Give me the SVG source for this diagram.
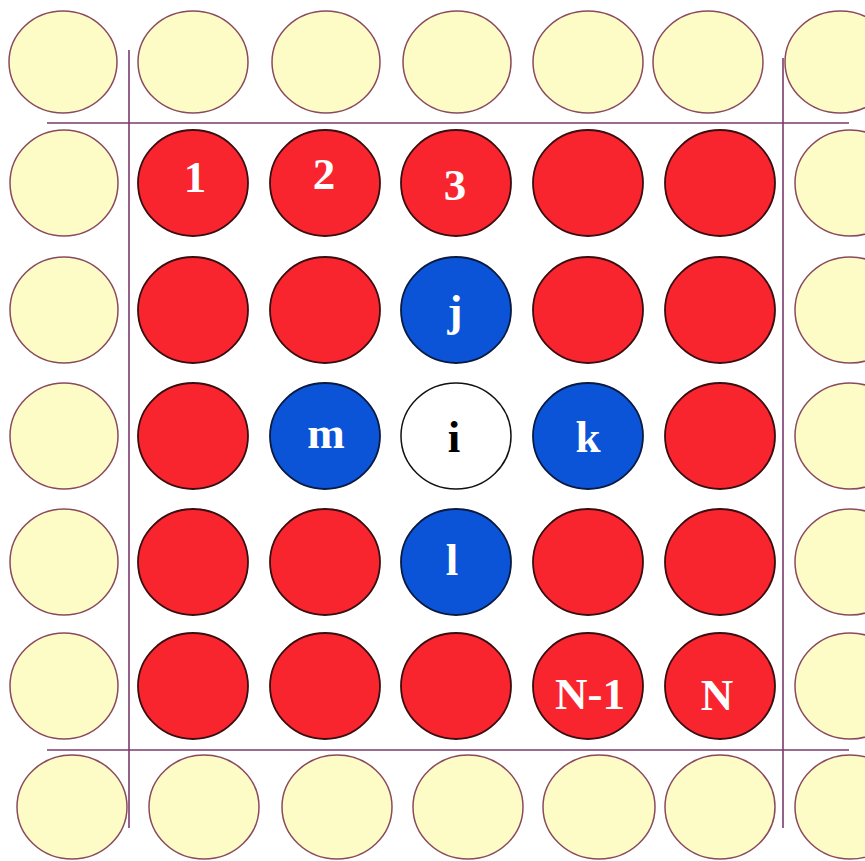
<svg xmlns="http://www.w3.org/2000/svg" width="865" height="861" viewBox="0 0 865 861">
<style>
.y{fill:#fdfbc6;stroke:#8a4a5e;stroke-width:1.5}
.r{fill:#f8252f;stroke:#3a0d10;stroke-width:1.8}
.b{fill:#0b54d8;stroke:#0a1a40;stroke-width:1.8}
.w{fill:#ffffff;stroke:#111111;stroke-width:1.5}
.t{font-family:"Liberation Serif","Times New Roman",serif;font-weight:bold;font-size:45px;fill:#ffffff;text-anchor:middle}
.k{fill:#000000}
.ln{stroke:#7a3a6e;stroke-width:1.6;fill:none}
</style>
<rect width="865" height="861" fill="#ffffff"/>
<g id="lines">
<line class="ln" x1="129" y1="50" x2="129" y2="828"/>
<line class="ln" x1="783" y1="58" x2="783" y2="828"/>
<line class="ln" x1="47" y1="123" x2="849" y2="123"/>
<line class="ln" x1="47" y1="750" x2="849" y2="750"/>
</g>
<g id="top-row">
<ellipse class="y" cx="63" cy="62" rx="54" ry="51"/>
<ellipse class="y" cx="193" cy="62" rx="55" ry="51"/>
<ellipse class="y" cx="326" cy="62" rx="54" ry="51"/>
<ellipse class="y" cx="457" cy="62" rx="54" ry="51"/>
<ellipse class="y" cx="588" cy="62" rx="55" ry="51"/>
<ellipse class="y" cx="708" cy="62" rx="55" ry="51"/>
<ellipse class="y" cx="840" cy="62" rx="55" ry="51"/>
</g>
<g id="left-col">
<ellipse class="y" cx="64" cy="183" rx="54" ry="53"/>
<ellipse class="y" cx="64" cy="310" rx="54" ry="53"/>
<ellipse class="y" cx="64" cy="436" rx="54" ry="53"/>
<ellipse class="y" cx="64" cy="562" rx="54" ry="53"/>
<ellipse class="y" cx="64" cy="686" rx="54" ry="53"/>
</g>
<g id="right-col">
<ellipse class="y" cx="850" cy="183" rx="55" ry="53"/>
<ellipse class="y" cx="850" cy="310" rx="55" ry="53"/>
<ellipse class="y" cx="850" cy="436" rx="55" ry="53"/>
<ellipse class="y" cx="850" cy="562" rx="55" ry="53"/>
<ellipse class="y" cx="850" cy="686" rx="55" ry="53"/>
</g>
<g id="bottom-row">
<ellipse class="y" cx="72" cy="807" rx="55" ry="52"/>
<ellipse class="y" cx="204" cy="807" rx="55" ry="52"/>
<ellipse class="y" cx="337" cy="807" rx="55" ry="52"/>
<ellipse class="y" cx="468" cy="807" rx="55" ry="52"/>
<ellipse class="y" cx="599" cy="807" rx="56" ry="52"/>
<ellipse class="y" cx="720" cy="807" rx="55" ry="52"/>
<ellipse class="y" cx="850" cy="807" rx="55" ry="52"/>
</g>
<g id="n1"><ellipse class="r" cx="193" cy="183" rx="55" ry="53"/><text class="t" x="195" y="192">1</text></g>
<g id="n2"><ellipse class="r" cx="325" cy="183" rx="55" ry="53"/><text class="t" x="324" y="189">2</text></g>
<g id="n3"><ellipse class="r" cx="456" cy="183" rx="55" ry="53"/><text class="t" x="455" y="200">3</text></g>
<g id="r1c4"><ellipse class="r" cx="588" cy="183" rx="55" ry="53"/></g>
<g id="r1c5"><ellipse class="r" cx="720" cy="183" rx="55" ry="53"/></g>
<g id="r2c1"><ellipse class="r" cx="193" cy="310" rx="55" ry="53"/></g>
<g id="r2c2"><ellipse class="r" cx="325" cy="310" rx="55" ry="53"/></g>
<g id="nj"><ellipse class="b" cx="456" cy="310" rx="55" ry="53"/><text class="t" x="455" y="326">j</text></g>
<g id="r2c4"><ellipse class="r" cx="588" cy="310" rx="55" ry="53"/></g>
<g id="r2c5"><ellipse class="r" cx="720" cy="310" rx="55" ry="53"/></g>
<g id="r3c1"><ellipse class="r" cx="193" cy="436" rx="55" ry="53"/></g>
<g id="nm"><ellipse class="b" cx="325" cy="436" rx="55" ry="53"/><text class="t" x="326" y="448">m</text></g>
<g id="ni"><ellipse class="w" cx="456" cy="436" rx="55" ry="53"/><text class="t k" x="454" y="452">i</text></g>
<g id="nk"><ellipse class="b" cx="588" cy="436" rx="55" ry="53"/><text class="t" x="588" y="452">k</text></g>
<g id="r3c5"><ellipse class="r" cx="720" cy="436" rx="55" ry="53"/></g>
<g id="r4c1"><ellipse class="r" cx="193" cy="562" rx="55" ry="53"/></g>
<g id="r4c2"><ellipse class="r" cx="325" cy="562" rx="55" ry="53"/></g>
<g id="nl"><ellipse class="b" cx="456" cy="562" rx="55" ry="53"/><text class="t" x="452" y="575">l</text></g>
<g id="r4c4"><ellipse class="r" cx="588" cy="562" rx="55" ry="53"/></g>
<g id="r4c5"><ellipse class="r" cx="720" cy="562" rx="55" ry="53"/></g>
<g id="r5c1"><ellipse class="r" cx="193" cy="686" rx="55" ry="53"/></g>
<g id="r5c2"><ellipse class="r" cx="325" cy="686" rx="55" ry="53"/></g>
<g id="r5c3"><ellipse class="r" cx="456" cy="686" rx="55" ry="53"/></g>
<g id="nN1"><ellipse class="r" cx="588" cy="686" rx="55" ry="53"/><text class="t" x="590" y="709">N-1</text></g>
<g id="nN"><ellipse class="r" cx="720" cy="686" rx="55" ry="53"/><text class="t" x="717" y="710">N</text></g>
</svg>
